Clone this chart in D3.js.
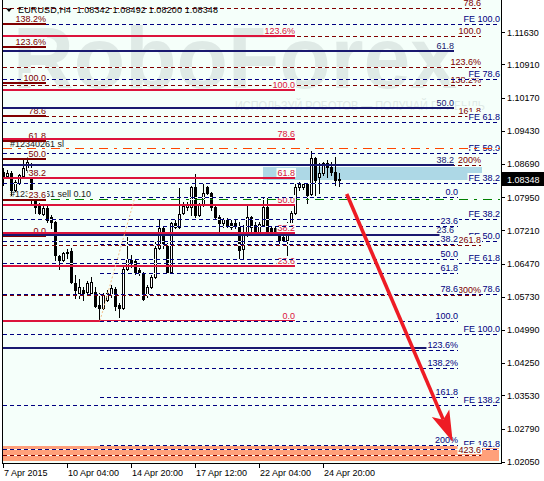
<!DOCTYPE html>
<html><head><meta charset="utf-8">
<script src="https://cdn.jsdelivr.net/npm/d3@7"></script>
<style>
body{margin:0;background:#fff}
svg{display:block}
</style>
</head><body>
<svg id="c" width="544" height="481" font-family="Liberation Sans, Arial, sans-serif" font-size="9"></svg>
<script>
// ---------- DATA ----------
const symbolTitle = "EURUSD,H4";
const headerValues = ["1.08342","1.08492","1.08200","1.08348"];
const opens  = [1.08511,1.08421,1.08488,1.08109,1.08265,1.08421,1.08556,1.08601,1.07953,1.07775,
1.07574,1.07708,1.07507,1.07395,1.06637,1.06548,1.06704,1.06749,1.06035,1.05812,
1.05879,1.05835,1.05812,1.05835,1.05545,1.05478,1.05656,1.05768,1.05902,1.05545,
1.05478,1.06347,1.06570,1.06526,1.06325,1.06258,1.05768,1.05946,1.06169,1.06816,
1.07261,1.06905,1.06280,1.07373,1.07284,1.07596,1.07730,1.07730,1.08176,1.07552,
1.07775,1.08176,1.08042,1.07730,1.07507,1.07373,1.07462,1.07373,1.07373,1.07306,
1.06793,1.07105,1.07507,1.07328,1.07150,1.07328,1.07730,1.07261,1.07261,1.07239,
1.07061,1.06994,1.07217,1.07596,1.08176,1.08176,1.08243,1.08020,1.08824,1.08399,
1.08488,1.08712,1.08623,1.08511,1.08342];
const highs  = [1.08601,1.08556,1.08533,1.08332,1.08466,1.08779,1.08846,1.08712,1.07998,1.07819,
1.07753,1.07775,1.07552,1.07418,1.06659,1.06726,1.06793,1.06816,1.06214,1.06124,
1.05946,1.06080,1.06169,1.05946,1.05812,1.05812,1.05879,1.05991,1.05946,1.05590,
1.06392,1.07061,1.06659,1.06570,1.06370,1.06280,1.05991,1.06214,1.06950,1.07462,
1.07306,1.06927,1.07395,1.07440,1.08154,1.07842,1.07842,1.08198,1.08466,1.07819,
1.08265,1.08198,1.08065,1.07775,1.07552,1.07484,1.07484,1.07440,1.07440,1.07395,
1.07328,1.07797,1.07529,1.07395,1.07395,1.07953,1.07931,1.07306,1.07306,1.07284,
1.07150,1.07395,1.07641,1.08265,1.08287,1.08265,1.08265,1.08980,1.08846,1.08712,
1.08734,1.08779,1.08734,1.08846,1.08492];
const lows   = [1.08221,1.08377,1.07998,1.08087,1.08243,1.08399,1.08511,1.07819,1.07596,1.07574,
1.07552,1.07395,1.07261,1.06548,1.06347,1.06526,1.06592,1.06035,1.05701,1.05701,
1.05656,1.05812,1.05768,1.05500,1.05188,1.05455,1.05634,1.05723,1.05433,1.05277,
1.05455,1.06325,1.06392,1.06236,1.06214,1.05656,1.05723,1.05924,1.06147,1.06793,
1.06816,1.06258,1.06258,1.07261,1.07261,1.07574,1.07663,1.07552,1.07507,1.07529,
1.07753,1.08020,1.07663,1.07484,1.07105,1.07284,1.07284,1.07239,1.07261,1.06570,
1.06592,1.07083,1.07150,1.07128,1.07128,1.07306,1.07128,1.07150,1.07105,1.06927,
1.06972,1.06615,1.07172,1.07574,1.08109,1.08132,1.07819,1.07998,1.07998,1.08042,
1.08444,1.08399,1.08444,1.08221,1.08200];
const closes = [1.08421,1.08488,1.08109,1.08287,1.08444,1.08601,1.08734,1.07953,1.07730,1.07596,
1.07708,1.07440,1.07395,1.06659,1.06548,1.06704,1.06726,1.06057,1.05879,1.05946,
1.05812,1.06035,1.06057,1.05522,1.05478,1.05768,1.05812,1.05924,1.05522,1.05478,
1.06347,1.06570,1.06503,1.06258,1.06258,1.05679,1.05946,1.06169,1.06816,1.07261,
1.06927,1.06280,1.07373,1.07284,1.07574,1.07753,1.07775,1.08176,1.07552,1.07775,
1.08042,1.08042,1.07730,1.07507,1.07373,1.07462,1.07328,1.07284,1.07306,1.06771,
1.07105,1.07507,1.07284,1.07150,1.07351,1.07730,1.07150,1.07195,1.07172,1.06994,
1.06994,1.07261,1.07596,1.08176,1.08243,1.08243,1.07998,1.08824,1.08332,1.08488,
1.08712,1.08623,1.08511,1.08332,1.08348];
const lastPrice = 1.08348;

const xTickBars   = [0,16,32,48,64,80];
const xTickLabels = ["7 Apr 2015","10 Apr 04:00","14 Apr 20:00","17 Apr 12:00","22 Apr 04:00","24 Apr 20:00"];
const yTickValues = [1.11630,1.10910,1.10170,1.09430,1.08690,1.07950,1.07210,1.06470,1.05730,1.04990,1.04250,1.03530,1.02790,1.02050];

// Fibonacci objects (labels + prices)
const maroonLeftLabels = ["138.2%","123.6%","100.0","78.6","61.8","50.0","38.2","23.6","0.0"];
const maroonLeftPrices = [1.11805,1.11308,1.10500,1.09769,1.09196,1.08792,1.08388,1.07891,1.07084];
const crimsonLabels = ["123.6%","100.0","78.6","61.8","50.0","38.2","23.6","0.0"];
const crimsonPrices = [1.11553,1.10340,1.09238,1.08375,1.07767,1.07159,1.06408,1.05194];
const navySolidLabels = ["61.8","50.0","38.2","23.6","0.0"];
const navySolidPrices = [1.11203,1.09938,1.08674,1.07110,1.04597];
const navyDashLabels = ["0.0","23.6","38.2","50.0","61.8","78.6","100.0","123.6%","138.2%","161.8","200%"];
const navyDashPrices = [1.07960,1.07307,1.06903,1.06577,1.06252,1.05786,1.05194,1.04541,1.04137,1.03486,1.02429];
const feUpperLabels = ["FE 100.0","FE 78.6","FE 61.8","FE 50.0","FE 38.2"];
const feUpperPrices = [1.11805,1.10578,1.09617,1.08937,1.08259];
const feLowerLabels = ["FE 38.2","FE 50.0","FE 61.8","FE 78.6","FE 100.0","FE 138.2","FE 161.8"];
const feLowerPrices = [1.07456,1.06972,1.06484,1.05786,1.04898,1.03317,1.02333];
const maroonExtLabels = ["78.6","100.0","123.6%","138.2%","161.8","200%","261.8","300%","423.6"];
const maroonExtPrices = [1.12162,1.11544,1.10864,1.10442,1.09760,1.08658,1.06874,1.05772,1.02204];

const stopLossPrice = 1.09053, stopLossLabel = "#12340261 sl";
const entryPrice = 1.07902, entryLabel = "#12340261 sell 0.10";
const blueZone = [1.08622, 1.08332];
const salmonZone = [1.02407, 1.02072];
const arrowFrom = [85.93, 1.08020], arrowTo = [112.43, 1.02496];   // [bar, price]
const dottedTrend = [[24.25, 1.05194], [33, 1.07953]];

// ---------- DRAW ----------
const BG = "#F5FFFA";
const FONT = "Liberation Sans, Arial, sans-serif";
const svg = d3.select("#c");
const x = d3.scaleLinear().domain([0,124.5]).range([3,501]);
const y = d3.scaleLinear().domain([1.02050,1.11630]).range([461.7,32.17]);

svg.append("rect").attr("width",544).attr("height",481).attr("fill","#fff");
svg.append("rect").attr("x",3).attr("y",0).attr("width",498).attr("height",463).attr("fill",BG);

// watermark
svg.append("text").attr("x",13).attr("y",88).attr("font-size",88).attr("font-weight","bold")
  .attr("textLength",444).attr("lengthAdjust","spacingAndGlyphs").attr("fill","#DFEAE6").text("RoboForex");
svg.append("text").attr("x",235).attr("y",110).attr("font-size",13)
  .attr("textLength",250).attr("lengthAdjust","spacingAndGlyphs").attr("fill","#DFEAE6")
  .text("ИСПОЛЬЗУЙ РОБОТОВ — ПОЛУЧАЙ ПРИБЫЛЬ");

// zones
function zone(z, x1, x2, color){
  const y1 = Math.round(y(z[0])), y2 = Math.round(y(z[1]));
  svg.append("rect").attr("x",x1).attr("y",y1).attr("width",x2-x1).attr("height",y2-y1).attr("fill",color);
}
zone(blueZone, 263, 482, "#ADD8E6");
zone(salmonZone, 3, 499, "#FFA07A");

// candles
const gC = svg.append("g").attr("shape-rendering","crispEdges");
opens.forEach((o,i)=>{
  const c = closes[i];
  const cx = Math.round(x(i));
  const yo = Math.round(y(o)), yc = Math.round(y(c)), yh = Math.round(y(highs[i])), yl = Math.round(y(lows[i]));
  gC.append("line").attr("x1",cx+0.5).attr("x2",cx+0.5).attr("y1",yh).attr("y2",yl+1).attr("stroke","#000");
  const top = Math.min(yo,yc), bot = Math.max(yo,yc);
  if (c >= o) {
    gC.append("rect").attr("x",cx-0.5).attr("y",top+0.5).attr("width",2).attr("height",Math.max(bot-top,0))
      .attr("fill","#fff").attr("stroke","#000");
  } else {
    gC.append("rect").attr("x",cx-1).attr("y",top).attr("width",3).attr("height",bot-top+1).attr("fill","#000");
  }
});

const gL = svg.append("g");
function hline(p, x1, x2, color, w, dash){
  let py = Math.round(y(p)); if (w % 2 === 1) py += 0.5;
  if (dash) gL.append("line").attr("x1",x1).attr("x2",x2).attr("y1",py).attr("y2",py)
      .attr("stroke",BG).attr("stroke-width",w);
  gL.append("line").attr("x1",x1).attr("x2",x2).attr("y1",py).attr("y2",py)
    .attr("stroke",color).attr("stroke-width",w).attr("stroke-dasharray",dash||null)
    .attr("shape-rendering","crispEdges");
  return Math.round(y(p));
}
function label(txt, xr, ly, color, anchor){
  const base = ly - 2;
  const t = gL.append("text").attr("x",xr).attr("y",base).attr("text-anchor",anchor||"end").attr("fill",color).text(txt);
  const w = t.node().getComputedTextLength();
  const bx = (anchor === "start") ? xr - 1 : xr - w - 1;
  gL.insert("rect", () => t.node()).attr("x",bx).attr("y",base-8).attr("width",w+2).attr("height",9).attr("fill",BG);
}
function fibSet(prices, labels, x1, x2, color, w, dash, labelX){
  prices.forEach((p,k)=>{ const ly = hline(p,x1,x2,color,w,dash); label(labels[k], labelX, ly, color); });
}
const NAVY = "#000080", NAVY2 = "#191970", MAROON = "#800000", CRIMSON = "#DC143C";
const DASH = "4,3";

fibSet(feLowerPrices, feLowerLabels, 3, 500, NAVY, 1, DASH, 500);
fibSet(maroonExtPrices, maroonExtLabels, 3, 481, MAROON, 1, DASH, 481);
fibSet(feUpperPrices, feUpperLabels, 3, 500, NAVY, 1, DASH, 500);

// order lines
{
  const ly = hline(stopLossPrice, 3, 500, "#FF4500", 1, "9,6,3,6");
  label(stopLossLabel, 10, ly+0.5, "#222", "start");
  const ly2 = hline(entryPrice, 3, 500, "#008000", 1, "9,6,3,6");
  gL.append("text").attr("x",10).attr("y",ly2-2.5).attr("fill","#222").text(entryLabel);
}

fibSet(maroonLeftPrices, maroonLeftLabels, 3, 46, MAROON, 2, null, 46);
fibSet(crimsonPrices, crimsonLabels, 3, 295, CRIMSON, 2, null, 295);
fibSet(navySolidPrices, navySolidLabels, 3, 454, NAVY2, 2, null, 454);
fibSet(navyDashPrices, navyDashLabels, 100, 458, NAVY, 1, DASH, 458);

// dotted trend
svg.append("line").attr("x1",x(dottedTrend[0][0])).attr("y1",y(dottedTrend[0][1]))
  .attr("x2",x(dottedTrend[1][0])).attr("y2",y(dottedTrend[1][1]))
  .attr("stroke","#F4C08A").attr("stroke-dasharray","2,2");

// arrow
{
  const ax1 = x(arrowFrom[0]), ay1 = y(arrowFrom[1]), ax2 = x(arrowTo[0]), ay2 = y(arrowTo[1]);
  const dx = ax2-ax1, dy = ay2-ay1, L = Math.hypot(dx,dy), ux = dx/L, uy = dy/L, nx = -uy, ny = ux;
  const back = 31, half = 9.5, notch = 24;
  const sx = ax2 - ux*notch, sy = ay2 - uy*notch;
  svg.append("line").attr("x1",ax1).attr("y1",ay1).attr("x2",sx).attr("y2",sy)
    .attr("stroke","#EE1C24").attr("stroke-width",3.6);
  const pts = [[ax2,ay2],[ax2-ux*back+nx*half, ay2-uy*back+ny*half],[sx,sy],[ax2-ux*back-nx*half, ay2-uy*back-ny*half]];
  svg.append("polygon").attr("points",pts.map(p=>p.join(",")).join(" ")).attr("fill","#EE1C24");
}

// borders
svg.append("line").attr("x1",2.5).attr("x2",2.5).attr("y1",0).attr("y2",464).attr("stroke","#000");
svg.append("line").attr("x1",501.5).attr("x2",501.5).attr("y1",0).attr("y2",464).attr("stroke","#000");
svg.append("line").attr("x1",2).attr("x2",502).attr("y1",463.5).attr("y2",463.5).attr("stroke","#000");

// axes
const yAxis = d3.axisRight(y).tickValues(yTickValues).tickSize(4).tickPadding(2).tickFormat(d3.format(".5f"));
const gy = svg.append("g").attr("transform","translate(501,0)").call(yAxis)
  .attr("font-size",9).attr("font-family",FONT);
gy.select(".domain").remove();
gy.selectAll("text").attr("fill","#000");
gy.selectAll("line").attr("shape-rendering","crispEdges");

const xAxis = d3.axisBottom(x).tickValues(xTickBars).tickSize(5).tickPadding(2).tickFormat((d,i)=>xTickLabels[i]);
const gx = svg.append("g").attr("transform","translate(0,463)").call(xAxis)
  .attr("font-size",9).attr("font-family",FONT).attr("text-anchor","start");
gx.select(".domain").remove();
gx.selectAll("text").attr("x",0.5).attr("fill","#000");
gx.selectAll("line").attr("shape-rendering","crispEdges");

// current price box
{
  const py = y(lastPrice);
  svg.append("rect").attr("x",502).attr("y",Math.round(py)-7).attr("width",42).attr("height",14).attr("fill","#000");
  svg.append("text").attr("x",507).attr("y",py+3.3).attr("fill","#fff").text(d3.format(".5f")(lastPrice));
}

// header
svg.append("path").attr("d","M6,8.5 L12,8.5 L9,12 Z").attr("fill","#000");
svg.append("text").attr("x",18).attr("y",13.3).attr("fill","#000")
  .attr("textLength",200).attr("lengthAdjust","spacing")
  .text(symbolTitle + "\u00a0\u00a0" + headerValues.join("\u00a0"));
</script>
</body></html>
